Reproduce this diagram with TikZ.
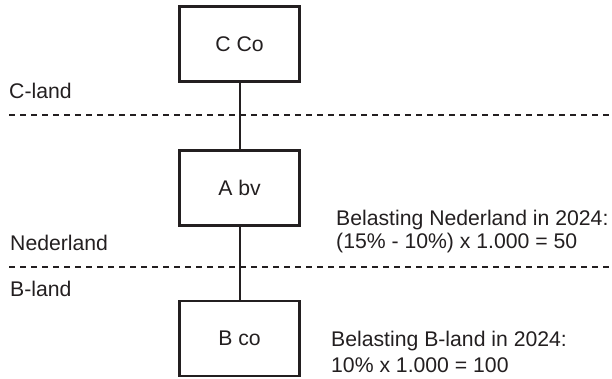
\documentclass[tikz,border=0pt]{standalone}
\usepackage{fontspec}
\setmainfont{Liberation Sans}
\definecolor{ink}{HTML}{231F20}
\begin{document}
\begin{tikzpicture}[x=1pt,y=-1pt,
  every node/.style={text=ink,font=\fontsize{21.2}{24}\selectfont,inner sep=0pt},
  entity/.style={draw=ink,line width=2.6pt,minimum width=120pt,minimum height=75pt},
  link/.style={draw=ink,line width=2pt},
  border/.style={draw=ink,line width=2.4pt,dash pattern=on 6pt off 5pt},
  lbl/.style={anchor=base west}]
\useasboundingbox (0,0) rectangle (612,378);
% entities
\node[entity] (C) at (239.5,44) {C Co};
\node[entity] (A) at (239.5,188) {A bv};
\node[entity] (B) at (239.5,338.5) {B co};
% connectors
\draw[link] (C.south) -- (A.north);
\draw[link] (A.south) -- (B.north);
% borders
\coordinate (d1l) at (9,115);
\coordinate (d1r) at (612,115);
\coordinate (d2l) at (9,267);
\coordinate (d2r) at (612,267);
\draw[border] (d1l) -- (d1r);
\draw[border] (d2l) -- (d2r);
% country labels
\node[lbl] (cl) at (9,98) {C-land};
\node[lbl] (nl) at (10,250) {Nederland};
\node[lbl] (bl) at (10,296) {B-land};
% tax texts
\node[lbl] (t1a) at (336,225) {Belasting Nederland in 2024:};
\node[lbl] (t1b) at (336,248) {(15\% - 10\%) x 1.000 = 50};
\node[lbl] (t2a) at (331,346) {Belasting B-land in 2024:};
\node[lbl] (t2b) at (331,372) {10\% x 1.000 = 100};
\end{tikzpicture}
\end{document}
